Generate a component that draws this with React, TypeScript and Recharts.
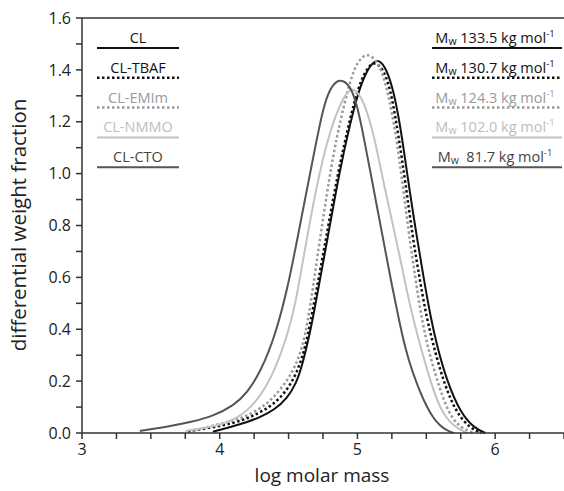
import React from 'react';
import { LineChart, Line, XAxis, YAxis, ReferenceLine } from 'recharts';

// [log molar mass, differential weight fraction]
const CL = [
  [3.95, 0.005], [4.07, 0.022], [4.2, 0.042], [4.29, 0.06], [4.4, 0.09], [4.49, 0.135],
  [4.55, 0.185], [4.6, 0.26], [4.67, 0.42], [4.72, 0.57], [4.78, 0.74], [4.87, 1.01],
  [4.95, 1.2], [5.0, 1.3], [5.05, 1.38], [5.135, 1.45], [5.2, 1.415], [5.25, 1.345],
  [5.3, 1.22], [5.34, 1.08], [5.38, 0.93], [5.43, 0.76], [5.48, 0.6], [5.53, 0.45],
  [5.58, 0.33], [5.65, 0.2], [5.75, 0.075], [5.85, 0.018], [5.93, 0],
];

const CL_TBAF = [
  [3.77, 0.006], [3.95, 0.022], [4.1, 0.038], [4.22, 0.06], [4.35, 0.095], [4.44, 0.135],
  [4.52, 0.19], [4.58, 0.26], [4.62, 0.33], [4.66, 0.43], [4.72, 0.6], [4.77, 0.744],
  [4.86, 1.01], [4.95, 1.22], [5.0, 1.32], [5.05, 1.39], [5.12, 1.44], [5.2, 1.395],
  [5.25, 1.3], [5.3, 1.14], [5.35, 0.96], [5.4, 0.76], [5.45, 0.6], [5.5, 0.45],
  [5.56, 0.32], [5.63, 0.19], [5.72, 0.075], [5.82, 0.018], [5.9, 0],
];

const CL_EMIM = [
  [3.8, 0.008], [3.95, 0.028], [4.1, 0.048], [4.18, 0.062], [4.3, 0.095], [4.4, 0.14],
  [4.5, 0.21], [4.55, 0.26], [4.6, 0.33], [4.64, 0.43], [4.68, 0.57], [4.72, 0.72],
  [4.8, 1.0], [4.85, 1.14], [4.9, 1.26], [4.96, 1.38], [5.0, 1.43], [5.07, 1.47],
  [5.15, 1.43], [5.2, 1.36], [5.25, 1.24], [5.3, 1.08], [5.375, 0.76], [5.42, 0.6],
  [5.46, 0.46], [5.51, 0.33], [5.58, 0.2], [5.66, 0.075], [5.75, 0.018], [5.85, 0],
];

const CL_NMMO = [
  [3.75, 0.008], [3.9, 0.02], [4.0, 0.032], [4.1, 0.05], [4.2, 0.085], [4.3, 0.145],
  [4.4, 0.24], [4.5, 0.39], [4.55, 0.5], [4.6, 0.65], [4.7, 0.95], [4.8, 1.17],
  [4.9, 1.3], [4.96, 1.335], [5.03, 1.3], [5.1, 1.19], [5.15, 1.07], [5.2, 0.94],
  [5.25, 0.82], [5.3, 0.7], [5.35, 0.57], [5.4, 0.45], [5.47, 0.31], [5.53, 0.2],
  [5.6, 0.09], [5.7, 0.022], [5.8, 0],
];

const CL_CTO = [
  [3.42, 0.008], [3.6, 0.022], [3.8, 0.043], [3.95, 0.065], [4.1, 0.105], [4.2, 0.155],
  [4.3, 0.24], [4.4, 0.37], [4.5, 0.57], [4.6, 0.85], [4.7, 1.12], [4.75, 1.25],
  [4.8, 1.33], [4.87, 1.37], [4.95, 1.34], [5.0, 1.26], [5.05, 1.13], [5.1, 0.99],
  [5.15, 0.85], [5.2, 0.71], [5.25, 0.57], [5.3, 0.44], [5.35, 0.32], [5.4, 0.235],
  [5.45, 0.165], [5.5, 0.105], [5.55, 0.058], [5.6, 0.028], [5.65, 0.01], [5.7, 0],
];

const xTicks = [3, 3.25, 3.5, 3.75, 4, 4.25, 4.5, 4.75, 5, 5.25, 5.5, 5.75, 6, 6.25, 6.5];
const yTicks = [0, 0.1, 0.2, 0.3, 0.4, 0.5, 0.6, 0.7, 0.8, 0.9, 1.0, 1.1, 1.2, 1.3, 1.4, 1.5, 1.6];

const sampleNames = ['CL', 'CL-TBAF', 'CL-EMIm', 'CL-NMMO', 'CL-CTO'];
const mwValues = ['133.5', '130.7', '124.3', '102.0', ' 81.7'];

const series = [
  { name: 'CL', pts: CL, color: '#111', dash: undefined, text: '#111' },
  { name: 'CL-TBAF', pts: CL_TBAF, color: '#111', dash: '2.5 2.5', text: '#111' },
  { name: 'CL-EMIm', pts: CL_EMIM, color: '#9a9a9a', dash: '2.5 2.5', text: '#9a9a9a' },
  { name: 'CL-NMMO', pts: CL_NMMO, color: '#c2c2c2', dash: undefined, text: '#bdbdbd' },
  { name: 'CL-CTO', pts: CL_CTO, color: '#555', dash: undefined, text: '#444' },
];

const font = '"Open Sans", sans-serif';
const axisColor = '#333';

export default function App() {
  return (
    <div style={{ position: 'absolute', left: 0, top: 0, width: 564, height: 491, fontFamily: font }}>
      <LineChart width={564} height={491} margin={{ top: 18, right: 0, bottom: 0, left: 0 }}>
        <XAxis
          type="number"
          dataKey="x"
          domain={[3, 6.5]}
          ticks={xTicks}
          allowDuplicatedCategory={false}
          height={58}
          stroke={axisColor}
          strokeWidth={1.5}
          tickSize={6}
          tickMargin={5}
          tick={{ fill: '#222', fontSize: 16, fontFamily: font }}
          tickFormatter={(v: number) => (Number.isInteger(v) ? String(v) : '')}
        />
        <YAxis
          type="number"
          domain={[0, 1.6]}
          ticks={yTicks}
          width={82}
          stroke={axisColor}
          strokeWidth={1.5}
          tickSize={6}
          tickMargin={5}
          tick={{ fill: '#222', fontSize: 16, fontFamily: font }}
          tickFormatter={(v: number, i: number) => (i % 2 === 0 ? v.toFixed(1) : '')}
        />
        <ReferenceLine y={1.6} stroke={axisColor} strokeWidth={1.5} />
        {series.map((s) => (
          <Line
            key={s.name}
            data={s.pts.map(([x, y]) => ({ x, y }))}
            dataKey="y"
            type="basis"
            stroke={s.color}
            strokeWidth={s.dash ? 2.5 : 2}
            strokeDasharray={s.dash}
            dot={false}
            isAnimationActive={false}
          />
        ))}
      </LineChart>

      <svg width={564} height={491} style={{ position: 'absolute', left: 0, top: 0, pointerEvents: 'none' }}>
        <text x={322} y={482} textAnchor="middle" fontSize={19} fill="#222" fontFamily={font}>
          log molar mass
        </text>
        <text
          transform="translate(26,225) rotate(-90)"
          textAnchor="middle"
          fontSize={20.5}
          fill="#222"
          fontFamily={font}
        >
          differential weight fraction
        </text>

        {series.map((s, i) => {
          const ly = 48 + i * 29.8;
          return (
            <g key={s.name}>
              <text x={138} y={ly - 5} textAnchor="middle" fontSize={14.5} fill={s.text} fontFamily={font}>
                {sampleNames[i]}
              </text>
              <line x1={97} x2={179} y1={ly} y2={ly} stroke={s.color} strokeWidth={s.dash ? 2.5 : 2} strokeDasharray={s.dash} />
              <text x={495} y={ly - 5} textAnchor="middle" fontSize={14.5} fill={s.text} fontFamily={font} xmlSpace="preserve">
                M<tspan fontSize={10.5} dy={2}>w</tspan>
                <tspan dy={-2}>{' ' + mwValues[i] + ' kg mol'}</tspan>
                <tspan fontSize={9.5} dy={-6}>-1</tspan>
              </text>
              <line x1={432} x2={562} y1={ly} y2={ly} stroke={s.color} strokeWidth={s.dash ? 2.5 : 2} strokeDasharray={s.dash} />
            </g>
          );
        })}
      </svg>
    </div>
  );
}
